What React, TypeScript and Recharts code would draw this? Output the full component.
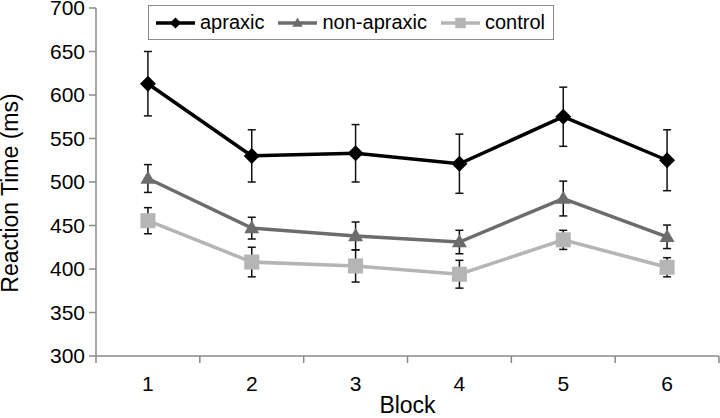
import { ErrorBar, Label, Legend, Line, LineChart, XAxis, YAxis } from "recharts";

const BLOCKS = ["1", "2", "3", "4", "5", "6"];
const APRAXIC = [613, 530, 533, 521, 575, 525];
const APRAXIC_ERR = [37, 30, 33, 34, 34, 35];
const NON_APRAXIC = [504, 447, 438, 431, 481, 437];
const NON_APRAXIC_ERR = [16, 12.5, 16, 13.5, 20, 13.5];
const CONTROL = [455.5, 408, 403.5, 394, 433.5, 402];
const CONTROL_ERR = [15, 17, 18.5, 16, 11, 11];
const Y_TICKS = [300, 350, 400, 450, 500, 550, 600, 650, 700];

const FONT = "'Liberation Sans', Arial, Helvetica, sans-serif";
const AXIS_GRAY = "#8a8a8a";

const rows = BLOCKS.map((block, i) => ({
  block,
  apraxic: APRAXIC[i],
  apraxicErr: APRAXIC_ERR[i],
  nonApraxic: NON_APRAXIC[i],
  nonApraxicErr: NON_APRAXIC_ERR[i],
  control: CONTROL[i],
  controlErr: CONTROL_ERR[i],
}));

type Shape = "diamond" | "triangle" | "square";

const marker = (shape: Shape, cx: number, cy: number, r: number, fill: string, key?: string | number) => {
  if (shape === "diamond") {
    return <polygon key={key} points={`${cx},${cy - r} ${cx + r},${cy} ${cx},${cy + r} ${cx - r},${cy}`} fill={fill} />;
  }
  if (shape === "triangle") {
    const h = r * 1.75;
    return (
      <polygon
        key={key}
        points={`${cx},${cy - h * 0.6} ${cx + r},${cy + h * 0.4} ${cx - r},${cy + h * 0.4}`}
        fill={fill}
      />
    );
  }
  return <rect key={key} x={cx - r} y={cy - r} width={r * 2} height={r * 2} fill={fill} />;
};

const SERIES: { name: string; key: string; err: string; color: string; shape: Shape; size: number }[] = [
  { name: "apraxic", key: "apraxic", err: "apraxicErr", color: "#000000", shape: "diamond", size: 8 },
  { name: "non-apraxic", key: "nonApraxic", err: "nonApraxicErr", color: "#6c6c6c", shape: "triangle", size: 7.5 },
  { name: "control", key: "control", err: "controlErr", color: "#b5b5b5", shape: "square", size: 7.5 },
];

const LegendBox = () => (
  <div
    style={{
      boxSizing: "border-box",
      width: 406,
      height: 35,
      border: `1px solid ${AXIS_GRAY}`,
      background: "#fff",
      display: "flex",
      alignItems: "center",
      paddingLeft: 7,
      fontFamily: FONT,
      fontSize: 20,
      color: "#000",
      whiteSpace: "nowrap",
    }}
  >
    {SERIES.map((s) => (
      <div key={s.key} style={{ display: "flex", alignItems: "center", marginRight: 14, flexShrink: 0 }}>
        <svg width={39} height={20} style={{ display: "block" }}>
          <line x1={0} y1={10} x2={39} y2={10} stroke={s.color} strokeWidth={3.5} />
          {marker(s.shape, 19.5, 10, s.size * 0.7, s.color)}
        </svg>
        <span style={{ marginLeft: 5 }}>{s.name}</span>
      </div>
    ))}
  </div>
);

const BlockTick = (props: any) => {
  const { x, y, payload, index } = props;
  const half = payload?.offset || 52;
  return (
    <g>
      <line x1={x - half} y1={y} x2={x - half} y2={y + 7} stroke={AXIS_GRAY} strokeWidth={1.5} />
      {index === BLOCKS.length - 1 && (
        <line x1={x + half} y1={y} x2={x + half} y2={y + 7} stroke={AXIS_GRAY} strokeWidth={1.5} />
      )}
      <text x={x} y={y + 35} textAnchor="middle" fontSize={21} fontFamily={FONT} fill="#000">
        {payload.value}
      </text>
    </g>
  );
};

export default function App() {
  return (
    <div style={{ position: "absolute", left: 0, top: 0, background: "#fff" }}>
      <LineChart width={720} height={418} data={rows} margin={{ top: 8, right: 1, bottom: 0, left: 0 }}>
        <XAxis
          dataKey="block"
          scale="band"
          height={62}
          interval={0}
          tickSize={0}
          tickMargin={0}
          tickLine={false}
          axisLine={{ stroke: AXIS_GRAY, strokeWidth: 1.5 }}
          tick={<BlockTick />}
        >
          <Label
            content={({ viewBox }: any) => (
              <text
                x={viewBox.x + viewBox.width / 2}
                y={viewBox.y + viewBox.height - 5}
                textAnchor="middle"
                fontSize={23}
                fontFamily={FONT}
                fill="#000"
              >
                Block
              </text>
            )}
          />
        </XAxis>
        <YAxis
          width={96}
          domain={[300, 700]}
          ticks={Y_TICKS}
          interval={0}
          tickSize={7}
          tickMargin={4}
          axisLine={{ stroke: AXIS_GRAY, strokeWidth: 1.5 }}
          tickLine={{ stroke: AXIS_GRAY, strokeWidth: 1.5 }}
          tick={{ fontSize: 21, fontFamily: FONT, fill: "#000" }}
        >
          <Label
            content={({ viewBox }: any) => {
              const cx = viewBox.x + 18;
              const cy = viewBox.y + viewBox.height / 2 + 11;
              return (
                <text
                  x={cx}
                  y={cy}
                  transform={`rotate(-90, ${cx}, ${cy})`}
                  textAnchor="middle"
                  fontSize={23}
                  fontFamily={FONT}
                  fill="#000"
                >
                  Reaction Time (ms)
                </text>
              );
            }}
          />
        </YAxis>
        <Legend
          layout="horizontal"
          verticalAlign="middle"
          align="center"
          content={<LegendBox />}
          wrapperStyle={{ top: 5, left: 148, width: 406, height: 35 }}
        />
        {SERIES.map((s) => (
          <Line
            key={s.key}
            dataKey={s.key}
            name={s.name}
            stroke={s.color}
            strokeWidth={3.5}
            type="linear"
            isAnimationActive={false}
            dot={(p: any) => marker(s.shape, p.cx, p.cy, s.size, s.color, `${s.key}-${p.index}`)}
            activeDot={false}
          >
            <ErrorBar dataKey={s.err} direction="y" width={4} stroke="#111" strokeWidth={1.5} isAnimationActive={false} />
          </Line>
        ))}
      </LineChart>
    </div>
  );
}
